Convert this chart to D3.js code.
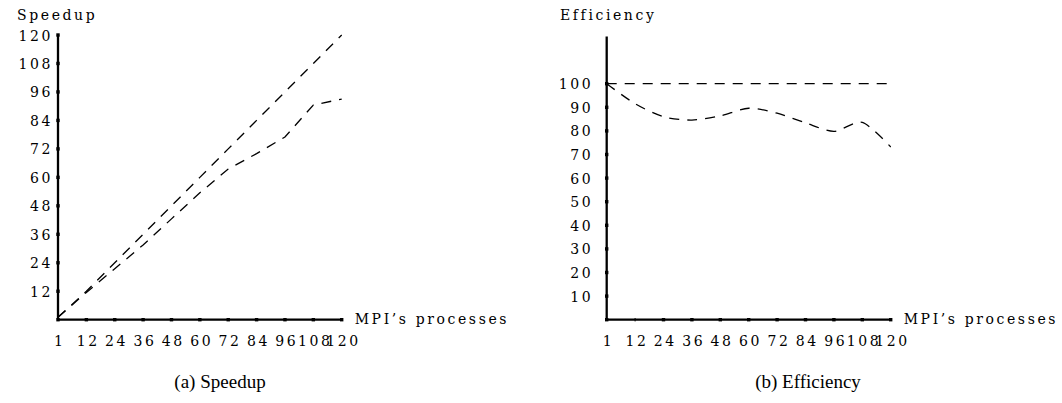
<!DOCTYPE html>
<html lang="en">
<head>
<meta charset="utf-8" />
<title>Speedup and Efficiency</title>
<script src="https://cdn.jsdelivr.net/npm/d3@7"></script>
<style>
  body { margin: 0; background: #fff; }
</style>
</head>
<body>
<script>
// processes on the x axis (equally spaced, first one is "1")
var procLabels = ["1", "12", "24", "36", "48", "60", "72", "84", "96", "108", "120"];

// speedup panel
var speedupIdeal    = [1, 12, 24, 36, 48, 60, 72, 84, 96, 108, 120];
var speedupMeasured = [1, 11.5, 21.5, 31.5, 42.5, 53.5, 63.5, 70, 77, 90.5, 93];
var speedupTicks    = [12, 24, 36, 48, 60, 72, 84, 96, 108, 120];

// efficiency panel (%)
var effIdeal    = [100, 100, 100, 100, 100, 100, 100, 100, 100, 100, 100];
var effMeasured = [100, 91.5, 86, 84.6, 86.4, 89.6, 87.5, 83.4, 79.8, 83.6, 73.2];
var effTicks    = [10, 20, 30, 40, 50, 60, 70, 80, 90, 100];

var width = 1062, height = 403;
var axisFont = "'DejaVu Serif', serif";
var capFont = "'Liberation Serif', 'Times New Roman', serif";

var svg = d3.select("body").append("svg")
    .attr("width", width)
    .attr("height", height);

// letter-spaced axis font
function lbl(sel) {
  sel.style("font-family", axisFont)
     .style("font-size", "14px")
     .style("letter-spacing", "2.6px")
     .attr("fill", "#000");
}

function drawPanel(p) {
  var g = svg.append("g");

  var x = d3.scalePoint().domain(procLabels).range([p.x0, p.x1]);
  var y = d3.scaleLinear().domain([0, 120]).range([p.yb, p.yt]);

  // axes (ticks drawn as little squares below)
  var ax = g.append("g")
    .attr("transform", "translate(0," + p.yb + ")")
    .call(d3.axisBottom(x).tickSize(0).tickPadding(16));
  var ay = g.append("g")
    .attr("transform", "translate(" + p.x0 + ",0)")
    .call(d3.axisLeft(y).tickValues(p.ticks).tickSize(0).tickPadding(p.pad));

  [ax, ay].forEach(function(a) {
    a.select(".domain").attr("stroke", "#000").attr("stroke-width", 2.3);
    a.selectAll("text").call(lbl);
  });
  ax.selectAll("text").attr("dy", "0.71em").attr("dx", 1.3);
  ay.selectAll("text").attr("dy", "0.36em");

  ax.select(".domain").attr("d", "M" + p.x0 + ",0H" + p.x1);
  ay.select(".domain").attr("d", "M0," + p.yb + "V" + p.yt);

  var sq = 3.4;
  g.selectAll(".xt").data(procLabels.filter(function(d) { return p.thin.indexOf(d) < 0; }))
    .enter().append("rect")
    .attr("x", function(d) { return x(d) - sq/2; })
    .attr("y", p.yb - sq/2)
    .attr("width", sq).attr("height", sq).attr("fill", "#000");
  g.selectAll(".xthin").data(p.thin)
    .enter().append("line")
    .attr("x1", function(d) { return x(d); }).attr("x2", function(d) { return x(d); })
    .attr("y1", p.yb - sq/2).attr("y2", p.yb + sq/2)
    .attr("stroke", "#000").attr("stroke-width", 1);
  g.selectAll(".yt").data(p.ticks)
    .enter().append("rect")
    .attr("x", p.x0 - sq/2)
    .attr("y", function(d) { return y(d) - sq/2; })
    .attr("width", sq).attr("height", sq).attr("fill", "#000");

  // series
  [[p.ideal, d3.curveLinear], [p.measured, p.curve]].forEach(function(s) {
    var line = d3.line()
      .x(function(d, i) { return x(procLabels[i]); })
      .y(function(d) { return y(d); })
      .curve(s[1]);
    g.append("path")
      .datum(s[0])
      .attr("d", line)
      .attr("fill", "none")
      .attr("stroke", "#000")
      .attr("stroke-width", 1.3)
      .attr("stroke-dasharray", "10,8");
  });

  g.append("text")
    .attr("x", p.yLabelX).attr("y", 20)
    .text(p.yLabel)
    .call(lbl);
  g.append("text")
    .attr("x", p.x1 + 13).attr("y", p.yb + 4)
    .text("MPI\u2019s processes")
    .call(lbl);
  g.append("text")
    .attr("x", p.capX).attr("y", 388)
    .attr("text-anchor", "middle")
    .style("font-family", capFont)
    .style("font-size", "19px")
    .attr("fill", "#000")
    .text(p.caption);
}

drawPanel({
  x0: 58, x1: 341.7, yb: 319.7, yt: 35, pad: 5,
  ticks: speedupTicks, thin: [],
  ideal: speedupIdeal, measured: speedupMeasured, curve: d3.curveLinear,
  yLabel: "Speedup", yLabelX: 17,
  caption: "(a) Speedup", capX: 220
});

drawPanel({
  x0: 606.7, x1: 890.7, yb: 319.7, yt: 36.5, pad: 13.5,
  ticks: effTicks, thin: ["12"],
  ideal: effIdeal, measured: effMeasured, curve: d3.curveCardinal.tension(0.2),
  yLabel: "Efficiency", yLabelX: 560,
  caption: "(b) Efficiency", capX: 808
});
</script>
</body>
</html>
